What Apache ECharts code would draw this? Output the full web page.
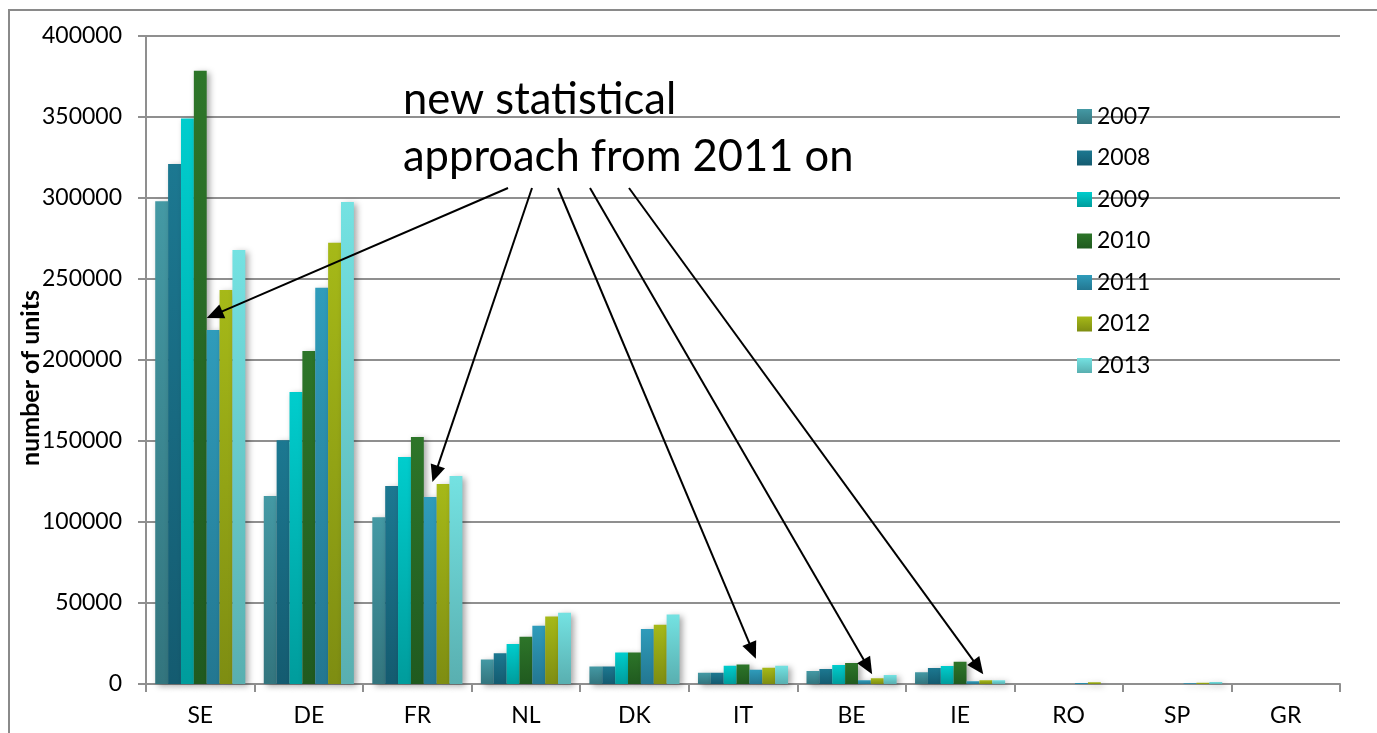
<!DOCTYPE html>
<html>
<head>
<meta charset="utf-8">
<script src="https://cdn.jsdelivr.net/npm/echarts@6/dist/echarts.min.js"></script>
<style>
  html, body { margin: 0; padding: 0; background: #ffffff; }
  #chart { width: 1377px; height: 733px; }
</style>
</head>
<body>
<div id="chart"></div>
<script>
// Countries on the category axis
const countries = ['SE', 'DE', 'FR', 'NL', 'DK', 'IT', 'BE', 'IE', 'RO', 'SP', 'GR'];
// Legend entries (one series per year)
const years = ['2007', '2008', '2009', '2010', '2011', '2012', '2013'];
// Units per country and year
const units2007 = [298000, 116000, 103000, 15200, 10800, 7000, 8000, 7300, 0, 0, 0];
const units2008 = [321000, 150500, 122200, 19000, 10800, 7000, 9300, 9900, 0, 0, 0];
const units2009 = [349000, 180200, 140100, 24700, 19500, 11300, 11800, 11100, 0, 0, 0];
const units2010 = [378500, 205600, 152500, 29100, 19500, 12000, 13000, 13700, 0, 0, 0];
const units2011 = [218500, 244600, 115400, 35900, 34000, 8800, 2300, 1700, 600, 500, 0];
const units2012 = [243200, 272400, 123500, 41600, 36600, 10100, 3600, 2300, 1100, 700, 0];
const units2013 = [267900, 297500, 128400, 44000, 42900, 11300, 5500, 2300, 0, 1200, 0];
// Value axis range
const yMin = 0, yMax = 400000, yStep = 50000;
// Axis title and annotation
const yTitle = 'number of units';
const noteLines = ['new statistical', 'approach from 2011 on'];
const annotatedCountries = ['SE', 'FR', 'IT', 'BE', 'IE'];

const seriesValues = [units2007, units2008, units2009, units2010, units2011, units2012, units2013];

// Top/bottom gradient colours per year
const palette = [
  ['#4499A4', '#33757E'],
  ['#1C7891', '#145B70'],
  ['#00CDCD', '#009C9C'],
  ['#2D7529', '#205A1F'],
  ['#2F9CBB', '#237791'],
  ['#A6B918', '#7E8D12'],
  ['#74E2E2', '#59AFB0']
];

const FONT = 'Lato, "Open Sans", "DejaVu Sans", sans-serif';
const GRID_COLOR = '#8f8f8f';
const LABEL_SIZE = 23;

const chart = echarts.init(document.getElementById('chart'), null, { renderer: 'canvas' });

const series = years.map((y, i) => ({
  name: y,
  type: 'bar',
  data: seriesValues[i],
  barGap: '0%',
  barCategoryGap: '17%',
  itemStyle: {
    color: new echarts.graphic.LinearGradient(0, 0, 0, 1, [
      { offset: 0, color: palette[i][0] },
      { offset: 1, color: palette[i][1] }
    ]),
    shadowColor: 'rgba(0,0,0,0.35)',
    shadowBlur: 6,
    shadowOffsetX: 3,
    shadowOffsetY: 2
  },
  emphasis: { disabled: true },
  animation: false
}));

const option = {
  backgroundColor: '#ffffff',
  animation: false,
  grid: { left: 146, right: 37, top: 36, bottom: 49, containLabel: false },
  legend: {
    data: years,
    orient: 'vertical',
    left: 1077,
    top: 105,
    padding: 0,
    itemWidth: 15,
    itemHeight: 15,
    itemGap: 18.5,
    icon: 'rect',
    textStyle: { fontFamily: FONT, fontSize: LABEL_SIZE, color: '#000', lineHeight: 23 }
  },
  xAxis: {
    type: 'category',
    data: countries,
    axisLine: { show: true, lineStyle: { color: GRID_COLOR, width: 2 } },
    axisTick: { show: true, length: 8, lineStyle: { color: GRID_COLOR, width: 2 } },
    axisLabel: { color: '#000', fontFamily: FONT, fontSize: LABEL_SIZE, margin: 20 },
    splitLine: { show: false }
  },
  yAxis: {
    type: 'value',
    min: yMin,
    max: yMax,
    interval: yStep,
    axisLine: { show: true, lineStyle: { color: GRID_COLOR, width: 2 } },
    axisTick: { show: true, length: 8, lineStyle: { color: GRID_COLOR, width: 2 } },
    axisLabel: { color: '#000', fontFamily: FONT, fontSize: LABEL_SIZE, margin: 24, formatter: v => String(v) },
    splitLine: { show: true, lineStyle: { color: GRID_COLOR, width: 2 } }
  },
  series: series
};

chart.setOption(option);

// Frame, rotated axis title, annotation text and arrows pointing at the 2011 bars
const noteLeft = 403;
const noteSize = 43.5;
const arrowStartX = [105, 129, 155, 187, 226]; // offsets from noteLeft
const arrowStartY = 188;
const arrowTipDx = [0, 0.67, 0.5, 1.1, 1.3];   // in bar widths from the bar's left edge
const arrowTipDy = [12, 15, 11, 6, 7];         // gap above the bar top, px

const graphics = [
  {
    type: 'rect', z: -10, silent: true,
    shape: { x: 9, y: 10, width: 1400, height: 800 },
    style: { fill: 'none', stroke: '#8a8a8a', lineWidth: 2 }
  },
  {
    type: 'text', z: 100, silent: true,
    x: 31, y: 378, rotation: Math.PI / 2,
    style: { text: yTitle, font: 'bold 25px ' + FONT, fill: '#000', textAlign: 'center', textVerticalAlign: 'middle' }
  }
];

noteLines.forEach((t, i) => {
  graphics.push({
    type: 'text', z: 100, silent: true,
    x: noteLeft, y: 100 + i * 57,
    style: { text: t, font: noteSize + 'px ' + FONT, fill: '#000', textAlign: 'left', textVerticalAlign: 'middle' }
  });
});

const barData = chart.getModel().getSeriesByIndex(years.indexOf('2011')).getData();
annotatedCountries.forEach((c, k) => {
  const idx = countries.indexOf(c);
  const lay = barData.getItemLayout(idx);
  const top = Math.min(lay.y, lay.y + lay.height);
  const tx = lay.x + arrowTipDx[k] * lay.width;
  const ty = top - arrowTipDy[k];
  const sx = noteLeft + arrowStartX[k];
  const sy = arrowStartY;
  const dx = tx - sx, dy = ty - sy;
  const len = Math.sqrt(dx * dx + dy * dy);
  const ux = dx / len, uy = dy / len;
  const nx = -uy, ny = ux;
  const headLen = 17, headHalf = 7.5;
  const bx = tx - ux * headLen, by = ty - uy * headLen;
  graphics.push({
    type: 'line', z: 100, silent: true,
    shape: { x1: sx, y1: sy, x2: bx + ux * 2, y2: by + uy * 2 },
    style: { stroke: '#000', lineWidth: 2 }
  });
  graphics.push({
    type: 'polygon', z: 100, silent: true,
    shape: { points: [[tx, ty], [bx + nx * headHalf, by + ny * headHalf], [bx - nx * headHalf, by - ny * headHalf]] },
    style: { fill: '#000' }
  });
});

chart.setOption({ graphic: graphics });
</script>
</body>
</html>
